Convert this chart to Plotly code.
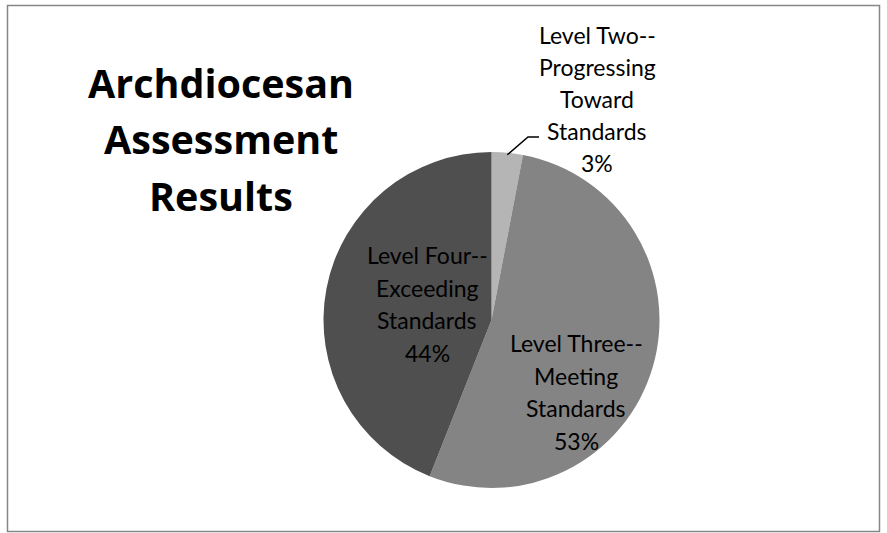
import math
import plotly.graph_objects as go

labels = ["Level Two--Progressing Toward Standards",
          "Level Three--Meeting Standards",
          "Level Four--Exceeding Standards"]
label_lines = [["Level Two--", "Progressing", "Toward", "Standards"],
               ["Level Three--", "Meeting", "Standards"],
               ["Level Four--", "Exceeding", "Standards"]]
values = [3, 53, 44]
colors = ["#b5b5b5", "#848484", "#4f4f4f"]
title_lines = ["Archdiocesan", "Assessment", "Results"]

W, H = 887, 533
FONT = "Lato"
TFONT = "Open Sans"

cx, cy, r = 491.5, 320.0, 168.0

fig = go.Figure(go.Pie(
    labels=labels, values=values, sort=False, direction="clockwise", rotation=0,
    marker=dict(colors=colors, line=dict(width=0)),
    textinfo="none", hoverinfo="label+percent", showlegend=False,
    domain=dict(x=[(cx - r) / W, (cx + r) / W], y=[1 - (cy + r) / H, 1 - (cy - r) / H]),
))

ann = []
def px(x, y, text, size, bold=False, family=FONT):
    ann.append(dict(x=x / W, y=1 - y / H, xref="paper", yref="paper", text=f"<b>{text}</b>" if bold else text,
                    showarrow=False, xanchor="center", yanchor="middle",
                    font=dict(family=family, size=size, color="#000000")))

for i, t in enumerate(title_lines):
    px(221, 83 + i * 56.5, t, 39.5, bold=True, family=TFONT)

total = sum(values)
pcts = [f"{round(v * 100 / total)}%" for v in values]
centers = [(597, 35), (576, 343), (427, 255)]
spacing = [32, 32.5, 32.5]
for k in range(3):
    lines = label_lines[k] + [pcts[k]]
    x0, y0 = centers[k]
    for j, t in enumerate(lines):
        px(x0, y0 + j * spacing[k], t, 23)

# leader line for the small slice, from its mid-angle on the rim
ang = math.radians(values[0] / total * 360 / 2)
ex, ey = cx + r * math.sin(ang) * 0.999, cy - r * math.cos(ang)
shapes = [
    dict(type="path", xref="paper", yref="paper",
         path=f"M {ex / W},{1 - (ey + 2) / H} L {528 / W},{1 - 137 / H} L {539 / W},{1 - 137 / H}",
         line=dict(color="#000000", width=1.5)),
    dict(type="rect", xref="paper", yref="paper", x0=7.5 / W, x1=879.5 / W, y0=1 - 531.5 / H, y1=1 - 5.5 / H,
         line=dict(color="#868686", width=1.5), fillcolor="rgba(0,0,0,0)"),
]

fig.update_layout(width=W, height=H, margin=dict(l=0, r=0, t=0, b=0),
                  paper_bgcolor="white", plot_bgcolor="white",
                  annotations=ann, shapes=shapes)
fig.write_html("out.html", config={"displayModeBar": False},
               post_script="document.body.style.margin='0';document.body.style.padding='0';")
